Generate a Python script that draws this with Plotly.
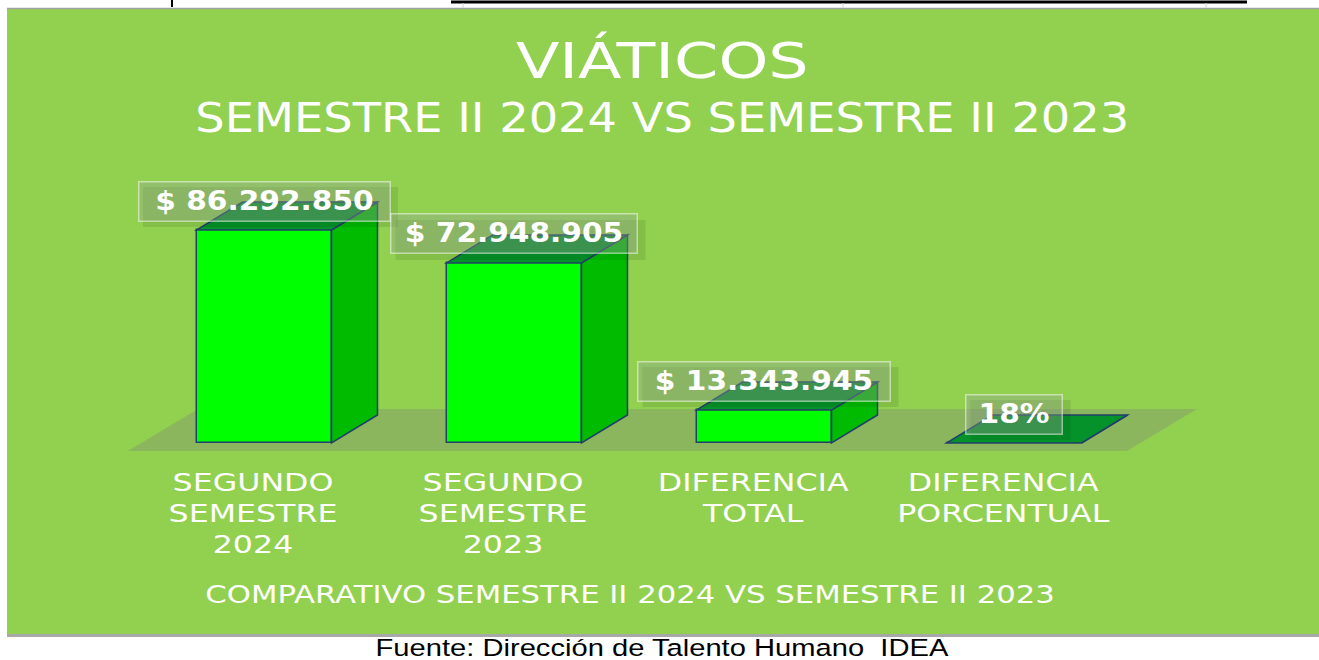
import json
import plotly.graph_objects as go

# ---------------- data ----------------
categories = ["SEGUNDO<br>SEMESTRE<br>2024", "SEGUNDO<br>SEMESTRE<br>2023",
              "DIFERENCIA<br>TOTAL", "DIFERENCIA<br>PORCENTUAL"]
values = [86292850, 72948905, 13343945, 18]
value_labels = ["$ 86.292.850", "$ 72.948.905", "$ 13.343.945", "18%"]
title_text = "VIÁTICOS"
subtitle_text = "SEMESTRE II 2024 VS SEMESTRE II 2023"
axis_title_text = "COMPARATIVO SEMESTRE II 2024 VS SEMESTRE II 2023"
source_text = "Fuente: Dirección de Talento Humano  IDEA"

# ---------------- layout / style ----------------
W, H = 1319, 660
PX_PER_CAT = 250.0      # horizontal spacing between categories
CAT0_PX = 264.0         # pixel of the first category
BASE_PX = 443.0         # pixel of value 0
MAX_TOP_PX = 230.0      # pixel of the largest value
k = max(values) / (BASE_PX - MAX_TOP_PX)   # value units per pixel

BAR_W = 135 / PX_PER_CAT
DEPTH_X = 46 / PX_PER_CAT
DEPTH_Y = 28 * k

GREEN_BG = "#92D050"
FRONT = "#00FF00"
SIDE = "#00BB00"
TOP = "#05922A"
EDGE = "#22406A"
FONT_GOTHIC = "DejaVu Sans"
LABEL_BOX_W = [248, 243, 249, 93]

x_range = [-CAT0_PX / PX_PER_CAT, (W - CAT0_PX) / PX_PER_CAT]
y_range = [-(H - BASE_PX) * k, BASE_PX * k]

def py(px):
    """value-axis coordinate of a pixel row"""
    return (BASE_PX - px) * k

fig = go.Figure()

# front faces of the bars
fig.add_trace(go.Bar(
    x=list(range(len(values))), y=values, width=BAR_W,
    marker=dict(color=FRONT, line=dict(color=EDGE, width=1.5)),
    hoverinfo="skip", showlegend=False,
))

shapes = []
# green chart panel
shapes.append(dict(type="rect", xref="paper", yref="paper",
                   x0=7 / W, x1=1, y0=1 - 634 / H, y1=1 - 8.5 / H,
                   fillcolor=GREEN_BG, line=dict(width=0), layer="below"))
shapes.append(dict(type="line", xref="paper", yref="paper",
                   x0=7 / W, x1=1, y0=1 - 8.5 / H, y1=1 - 8.5 / H,
                   line=dict(color="#A0A0A0", width=1.5), layer="below"))
shapes.append(dict(type="rect", xref="paper", yref="paper",
                   x0=7 / W, x1=1, y0=1 - 637 / H, y1=1 - 634 / H,
                   fillcolor="#A8A8A8", line=dict(width=0), layer="below"))
# top decorations of the page
shapes.append(dict(type="line", xref="paper", yref="paper",
                   x0=451 / W, x1=1247 / W, y0=1 - 2 / H, y1=1 - 2 / H,
                   line=dict(color="black", width=3), layer="below"))
shapes.append(dict(type="line", xref="paper", yref="paper",
                   x0=172 / W, x1=172 / W, y0=1, y1=1 - 7 / H,
                   line=dict(color="black", width=2), layer="below"))
for gx in (463, 843, 1206):
    shapes.append(dict(type="line", xref="paper", yref="paper",
                       x0=gx / W, x1=gx / W, y0=1 - 3 / H, y1=1 - 8 / H,
                       line=dict(color="#D0D0D0", width=1), layer="below"))

# floor of the 3D plot
fx0 = x_range[0] + 128 / PX_PER_CAT
fx1 = x_range[0] + 1127 / PX_PER_CAT
fdx = 70 / PX_PER_CAT
fy0 = py(451)
fy1 = py(409)
shapes.append(dict(type="path", xref="x", yref="y",
                   path=f"M {fx0},{fy0} L {fx1},{fy0} L {fx1+fdx},{fy1} L {fx0+fdx},{fy1} Z",
                   fillcolor="#8CB65E", line=dict(width=0), layer="below"))

# side and top faces of the bars (from the values)
for i, v in enumerate(values):
    xl = i - BAR_W / 2
    xr = i + BAR_W / 2
    side = f"M {xr},0 L {xr},{v} L {xr+DEPTH_X},{v+DEPTH_Y} L {xr+DEPTH_X},{DEPTH_Y} Z"
    top = f"M {xl},{v} L {xr},{v} L {xr+DEPTH_X},{v+DEPTH_Y} L {xl+DEPTH_X},{v+DEPTH_Y} Z"
    shapes.append(dict(type="path", xref="x", yref="y", path=side,
                       fillcolor=SIDE, line=dict(color=EDGE, width=1.5), layer="above"))
    shapes.append(dict(type="path", xref="x", yref="y", path=top,
                       fillcolor=TOP, line=dict(color=EDGE, width=1.5), layer="above"))

annotations = []
stretch = {}   # horizontal stretch of each annotation's text (the reference is widened)

def add_ann(sx, **kw):
    stretch[str(len(annotations))] = sx
    annotations.append(dict(showarrow=False, **kw))

# titles
add_ann(1.27, text=title_text, xref="paper", yref="paper",
        x=662 / W, y=1 - 61 / H, xanchor="center", yanchor="middle",
        font=dict(family=FONT_GOTHIC, size=50, color="white"))
add_ann(1.13, text=subtitle_text, xref="paper", yref="paper",
        x=663 / W, y=1 - 118 / H, xanchor="center", yanchor="middle",
        font=dict(family=FONT_GOTHIC, size=41, color="white"))
add_ann(1.28, text=axis_title_text, xref="paper", yref="paper",
        x=630 / W, y=1 - 595 / H, xanchor="center", yanchor="middle",
        font=dict(family=FONT_GOTHIC, size=24, color="white"))
add_ann(1.24, text=source_text, xref="paper", yref="paper",
        x=662 / W, y=1 - 647.5 / H, xanchor="center", yanchor="middle",
        font=dict(family="Liberation Sans", size=23.5, color="black"))

# category labels
for i, c in enumerate(categories):
    add_ann(1.32, text=c, x=i, y=py(467), xref="x", yref="y",
            xanchor="center", yanchor="top", xshift=-11, align="center",
            font=dict(family=FONT_GOTHIC, size=24, color="white"))

# value labels with their shadow
for i, (v, lab) in enumerate(zip(values, value_labels)):
    cy = v + 29 * k
    bw = LABEL_BOX_W[i] / PX_PER_CAT
    shapes.append(dict(type="rect", xref="x", yref="y",
                       x0=i - bw / 2 + 3 / PX_PER_CAT, x1=i + bw / 2 + 10 / PX_PER_CAT,
                       y0=cy - 26 * k, y1=cy + 14 * k,
                       fillcolor="rgba(0,40,0,0.10)", line=dict(width=0), layer="above"))
    add_ann(1.14, text=f"<b>{lab}</b>", x=i, y=cy, xref="x", yref="y",
            xanchor="center", yanchor="middle",
            width=LABEL_BOX_W[i], height=36, borderpad=1, borderwidth=1.5,
            bgcolor="rgba(150,165,150,0.38)",
            bordercolor="rgba(255,255,255,0.5)",
            font=dict(family=FONT_GOTHIC, size=26, color="white"))

fig.update_layout(
    width=W, height=H,
    margin=dict(l=0, r=0, t=0, b=0),
    paper_bgcolor="white", plot_bgcolor="rgba(0,0,0,0)",
    xaxis=dict(range=x_range, visible=False, fixedrange=True),
    yaxis=dict(range=y_range, visible=False, fixedrange=True),
    shapes=shapes, annotations=annotations,
    showlegend=False, bargap=0,
)

post = """
document.body.style.margin = '0';
var SX = %s;
document.querySelectorAll('g.annotation').forEach(function (g) {
  var s = SX[g.getAttribute('data-index')];
  if (!s) return;
  var t = g.querySelector('text.annotation-text');
  if (!t) return;
  var bb = t.getBBox();
  var cx = bb.x + bb.width / 2;
  t.setAttribute('transform', 'translate(' + cx + ',0) scale(' + s + ',1) translate(' + (-cx) + ',0)');
});
""" % json.dumps(stretch)

fig.write_html("out.html", post_script=post, config={"displayModeBar": False})
